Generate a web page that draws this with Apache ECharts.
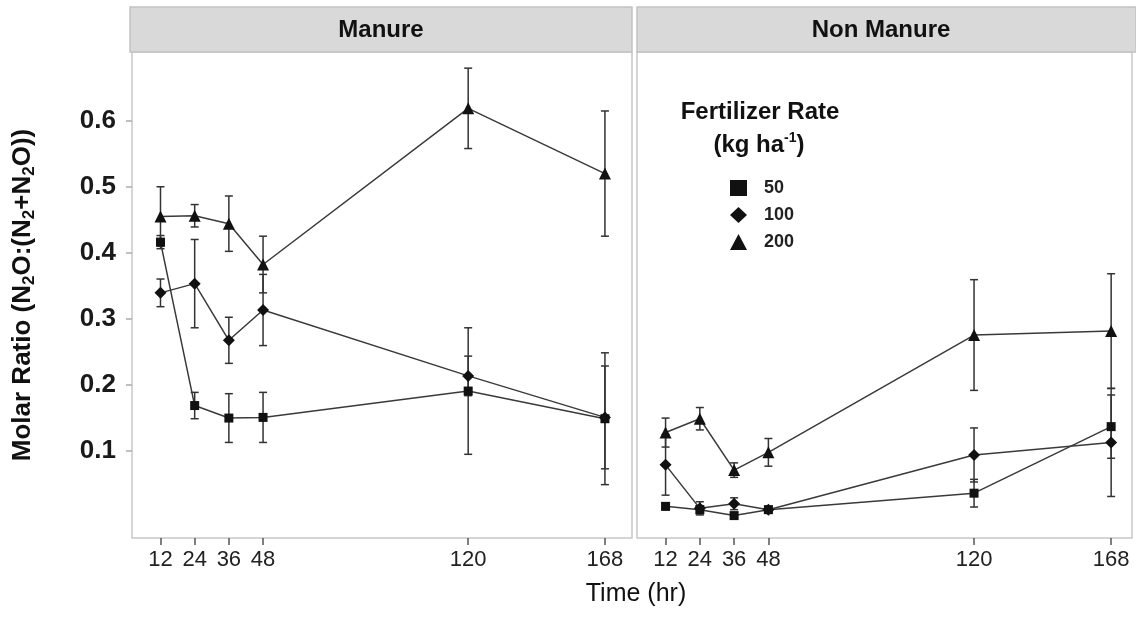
<!DOCTYPE html>
<head>
<meta charset="utf-8">
<title>Molar Ratio</title>
<style>
    body{ margin:0; background:#fff; }
    #main{ width:1136px; height:622px; }
</style>
</head>
<body>
<div id="main"></div>
<script src="https://cdn.jsdelivr.net/npm/echarts@6/dist/echarts.min.js"></script>
<script type="text/javascript">
    // sampling times (hr)
    var hours = [12, 24, 36, 48, 120, 168];
    var tickHours = [12, 24, 36, 48, 120, 168];
    var yTicks = [0.1, 0.2, 0.3, 0.4, 0.5, 0.6];
    var rates = ['50', '100', '200'];
    var panels = ['Manure', 'Non Manure'];

    // Manure panel
    var man50 = [0.416, 0.168, 0.149, 0.150, 0.190, 0.148];
    var man50Err = [0.010, 0.020, 0.037, 0.038, 0.096, 0.100];
    var man100 = [0.339, 0.353, 0.267, 0.313, 0.213, 0.150];
    var man100Err = [0.021, 0.067, 0.035, 0.054, 0.030, 0.078];
    var man200 = [0.455, 0.456, 0.444, 0.382, 0.619, 0.520];
    var man200Err = [0.045, 0.017, 0.042, 0.043, 0.061, 0.095];

    // Non manure panel
    var non50 = [0.015, 0.010, 0.001, 0.010, 0.035, 0.136];
    var non50Err = [0.005, 0.006, 0.004, 0.004, 0.021, 0.048];
    var non100 = [0.078, 0.012, 0.019, 0.010, 0.093, 0.112];
    var non100Err = [0.046, 0.010, 0.009, 0.005, 0.041, 0.082];
    var non200 = [0.127, 0.148, 0.070, 0.097, 0.275, 0.281];
    var non200Err = [0.022, 0.017, 0.011, 0.021, 0.084, 0.087];

    var symbols = ['rect', 'diamond', 'triangle'];
    var symbolSizes = [9, 12, 12];
    var font = 'Liberation Sans, Arial, sans-serif';

    function pairs(vals) {
        return hours.map(function (h, i) { return [h, vals[i]]; });
    }
    function errPairs(vals, errs) {
        return hours.map(function (h, i) { return [h, vals[i], errs[i]]; });
    }

    // vertical error bar with caps
    function renderErr(params, api) {
        var x = api.value(0), y = api.value(1), e = api.value(2);
        var top = api.coord([x, y + e]);
        var bot = api.coord([x, y - e]);
        var w = 4;
        var st = { stroke: '#333', lineWidth: 1.5 };
        return {
            type: 'group',
            children: [
                { type: 'line', shape: { x1: top[0], y1: top[1], x2: bot[0], y2: bot[1] }, style: st },
                { type: 'line', shape: { x1: top[0] - w, y1: top[1], x2: top[0] + w, y2: top[1] }, style: st },
                { type: 'line', shape: { x1: bot[0] - w, y1: bot[1], x2: bot[0] + w, y2: bot[1] }, style: st }
            ]
        };
    }

    var panelData = [
        [[man50, man50Err], [man100, man100Err], [man200, man200Err]],
        [[non50, non50Err], [non100, non100Err], [non200, non200Err]]
    ];

    var series = [];
    panelData.forEach(function (pd, p) {
        pd.forEach(function (d, k) {
            series.push({
                type: 'custom',
                name: 'err' + p + k,
                xAxisIndex: p,
                yAxisIndex: p,
                renderItem: renderErr,
                encode: { x: 0, y: 1 },
                data: errPairs(d[0], d[1]),
                z: 1,
                silent: true
            });
        });
        pd.forEach(function (d, k) {
            series.push({
                type: 'line',
                name: rates[k],
                xAxisIndex: p,
                yAxisIndex: p,
                data: pairs(d[0]),
                symbol: symbols[k],
                symbolSize: symbolSizes[k],
                showAllSymbol: true,
                itemStyle: { color: '#111' },
                lineStyle: { color: '#3a3a3a', width: 1.5 },
                z: 3
            });
        });
    });

    var xBase = {
        type: 'value',
        min: 2,
        axisLine: { show: false, onZero: false },
        splitLine: { show: false },
        axisTick: { show: true, length: 7, customValues: tickHours, lineStyle: { color: '#555', width: 1.5 } },
        axisLabel: { customValues: tickHours, margin: 11, fontSize: 22, color: '#222', fontFamily: font }
    };
    var yBase = {
        type: 'value',
        min: -0.033,
        max: 0.7045,
        axisLine: { show: false, onZero: false },
        splitLine: { show: false }
    };

    var chart = echarts.init(document.getElementById('main'));
    var option = {
        backgroundColor: '#fff',
        animation: false,
        grid: [
            { left: 132, top: 52, width: 500, height: 486, show: true, borderColor: '#c8c8c8', borderWidth: 1.5 },
            { left: 637, top: 52, width: 495, height: 486, show: true, borderColor: '#c8c8c8', borderWidth: 1.5 }
        ],
        xAxis: [
            Object.assign({}, xBase, { gridIndex: 0, max: 177.5 }),
            Object.assign({}, xBase, { gridIndex: 1, max: 175.3 })
        ],
        yAxis: [
            Object.assign({}, yBase, {
                gridIndex: 0,
                axisTick: { show: true, length: 6, customValues: yTicks, lineStyle: { color: '#aaa', width: 1.5 } },
                axisLabel: { customValues: yTicks, margin: 16, fontSize: 26, fontWeight: 'bold', color: '#1a1a1a', fontFamily: font },
                name: '{b|Molar Ratio (N}{s|2}{b|O:(N}{s|2}{b|+N}{s|2}{b|O))}',
                nameLocation: 'middle',
                nameRotate: 90,
                nameGap: 94,
                nameTextStyle: {
                    rich: {
                        b: { fontSize: 26, fontWeight: 'bold', color: '#111', lineHeight: 30, fontFamily: font },
                        s: { fontSize: 17, fontWeight: 'bold', color: '#111', lineHeight: 17, verticalAlign: 'bottom', fontFamily: font }
                    }
                }
            }),
            Object.assign({}, yBase, {
                gridIndex: 1,
                axisTick: { show: false },
                axisLabel: { show: false }
            })
        ],
        legend: {
            orient: 'vertical',
            left: 725,
            top: 174,
            itemWidth: 17,
            itemHeight: 16,
            itemGap: 9,
            selectedMode: false,
            textStyle: { fontSize: 18, fontWeight: 'bold', color: '#222', padding: [0, 0, 0, 12], fontFamily: font },
            data: [
                { name: '50', icon: 'rect' },
                { name: '100', icon: 'diamond' },
                { name: '200', icon: 'triangle' }
            ]
        },
        graphic: [
            {
                type: 'rect', shape: { x: 130, y: 7, width: 502, height: 45 },
                style: { fill: '#d9d9d9', stroke: '#c2c2c2', lineWidth: 1.5 }, z: 10
            },
            {
                type: 'text', x: 381, y: 30, z: 11,
                style: { text: panels[0], fontSize: 24, fontWeight: 'bold', fill: '#111', align: 'center', verticalAlign: 'middle', fontFamily: font }
            },
            {
                type: 'rect', shape: { x: 637, y: 7, width: 499, height: 45 },
                style: { fill: '#d9d9d9', stroke: '#c2c2c2', lineWidth: 1.5 }, z: 10
            },
            {
                type: 'text', x: 881, y: 30, z: 11,
                style: { text: panels[1], fontSize: 24, fontWeight: 'bold', fill: '#111', align: 'center', verticalAlign: 'middle', fontFamily: font }
            },
            {
                type: 'text', x: 760, y: 112, z: 11,
                style: { text: 'Fertilizer Rate', fontSize: 24, fontWeight: 'bold', fill: '#111', align: 'center', verticalAlign: 'middle', fontFamily: font }
            },
            {
                type: 'text', x: 759, y: 145, z: 11,
                style: {
                    text: '{a|(kg ha}{p|-1}{a|)}',
                    align: 'center', verticalAlign: 'middle',
                    rich: {
                        a: { fontSize: 24, fontWeight: 'bold', fill: '#111', lineHeight: 28, fontFamily: font },
                        p: { fontSize: 14, fontWeight: 'bold', fill: '#111', lineHeight: 14, verticalAlign: 'top', fontFamily: font }
                    }
                }
            },
            {
                type: 'text', x: 636, y: 594, z: 11,
                style: { text: 'Time (hr)', fontSize: 25, fill: '#111', align: 'center', verticalAlign: 'middle', fontFamily: font }
            }
        ],
        series: series
    };
    chart.setOption(option);
</script>
</body>
</html>
